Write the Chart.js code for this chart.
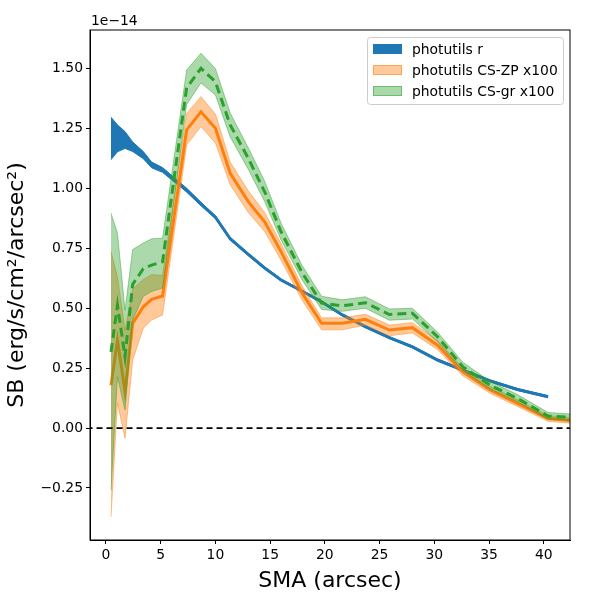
<!DOCTYPE html>
<html>
<head>
<meta charset="utf-8">
<title>SB profile</title>
<script src="https://cdn.jsdelivr.net/npm/chart.js@4.4.1/dist/chart.umd.min.js"></script>
<style>
    body { margin: 0; background: #fff; }
    #wrap { width: 600px; height: 600px; }
</style>
</head>
<body>
<div id="wrap"><canvas id="myChart" width="600" height="600"></canvas></div>
<script>
// SMA grid (arcsec)
const sma = [0.46, 1.05, 1.74, 2.44, 3.41, 4.17, 5.17, 7.37, 8.68, 10.0, 11.35, 13.0, 14.5, 16.0,
    17.9, 19.7, 21.6, 23.7, 25.9, 28.0, 30.3, 32.6, 35.1, 37.6, 40.4, 43.4];

// photutils r  (units of 1e-14)
const rMean = [1.209, 1.209, 1.200, 1.174, 1.139, 1.098, 1.077, 0.993, 0.935, 0.880, 0.790, 0.725, 0.668, 0.618,
    0.572, 0.527, 0.472, 0.423, 0.377, 0.339, 0.284, 0.242, 0.197, 0.161, 0.131, null];
const rLow = [1.120, 1.153, 1.167, 1.154, 1.124, 1.086, 1.067, 0.985, 0.928, 0.874, 0.785, 0.720, 0.664, 0.614,
    0.568, 0.523, 0.468, 0.419, 0.373, 0.335, 0.280, 0.238, 0.193, 0.157, 0.127, null];
const rHigh = [1.297, 1.265, 1.237, 1.194, 1.154, 1.110, 1.087, 1.001, 0.942, 0.886, 0.795, 0.730, 0.672, 0.622,
    0.576, 0.531, 0.476, 0.427, 0.381, 0.343, 0.288, 0.246, 0.201, 0.165, 0.135, null];

// photutils CS-ZP x100
const zpMean = [0.179, 0.367, 0.152, 0.437, 0.506, 0.537, 0.551, 1.244, 1.320, 1.251, 1.063, 0.945, 0.861, 0.736,
    0.565, 0.437, 0.437, 0.454, 0.409, 0.419, 0.346, 0.235, 0.159, 0.103, 0.040, 0.028];
const zpLow = [-0.370, 0.104, -0.042, 0.284, 0.417, 0.451, 0.472, 1.181, 1.258, 1.190, 1.015, 0.900, 0.820, 0.700,
    0.535, 0.410, 0.410, 0.430, 0.385, 0.397, 0.327, 0.218, 0.145, 0.090, 0.028, 0.017];
const zpHigh = [0.736, 0.632, 0.409, 0.580, 0.620, 0.640, 0.638, 1.313, 1.383, 1.310, 1.110, 0.990, 0.900, 0.770,
    0.595, 0.460, 0.460, 0.475, 0.430, 0.440, 0.365, 0.250, 0.175, 0.118, 0.052, 0.040];

// photutils CS-gr x100
const grMean = [0.318, 0.513, 0.298, 0.600, 0.665, 0.680, 0.694, 1.420, 1.501, 1.445, 1.265, 1.126, 0.986, 0.819,
    0.650, 0.521, 0.510, 0.523, 0.474, 0.479, 0.381, 0.256, 0.179, 0.124, 0.050, 0.043];
const grLow = [-0.259, 0.214, 0.075, 0.450, 0.550, 0.570, 0.584, 1.350, 1.440, 1.390, 1.215, 1.080, 0.945, 0.785,
    0.620, 0.495, 0.487, 0.500, 0.450, 0.455, 0.360, 0.240, 0.163, 0.110, 0.037, 0.030];
const grHigh = [0.896, 0.813, 0.492, 0.745, 0.772, 0.790, 0.792, 1.494, 1.564, 1.500, 1.315, 1.170, 1.030, 0.855,
    0.680, 0.550, 0.535, 0.548, 0.497, 0.500, 0.400, 0.275, 0.195, 0.140, 0.065, 0.056];

const zeroLevel = 0;
const seriesNames = ['photutils r', 'photutils CS-ZP x100', 'photutils CS-gr x100'];
const xTicks = [0, 5, 10, 15, 20, 25, 30, 35, 40];
const yTicks = [-0.25, 0, 0.25, 0.5, 0.75, 1.0, 1.25, 1.5];

const xMin = -1.46, xMax = 42.4;
const yMin = -0.467, yMax = 1.661;

const BLUE = '#1f77b4', ORANGE = '#ff7f0e', GREEN = '#2ca02c';
const ORANGE_BAND = 'rgba(255,127,14,0.42)';
const GREEN_BAND = 'rgba(44,160,44,0.4)';

const xy = arr => sma.map((x, i) => ({ x: x, y: arr[i] }));

function band(lowArr, highArr, color, edge, order) {
    return [
        { data: xy(lowArr), borderColor: edge, borderWidth: 1, pointRadius: 0, fill: false, order: order },
        { data: xy(highArr), borderColor: edge, borderWidth: 1, pointRadius: 0, backgroundColor: color, fill: '-1', order: order }
    ];
}

const fmt = v => {
    const s = Math.abs(v).toFixed(2);
    return v < 0 ? '\u2212' + s : s;
};

const frame = {
    id: 'frame',
    afterDraw(chart) {
        const { ctx, chartArea: a } = chart;
        ctx.save();
        ctx.strokeStyle = '#000';
        ctx.lineWidth = 1;
        ctx.strokeRect(a.left, a.top, a.right - a.left, a.bottom - a.top);

        // offset text
        ctx.fillStyle = '#000';
        ctx.font = '13.9px "DejaVu Sans"';
        ctx.textAlign = 'left';
        ctx.textBaseline = 'alphabetic';
        ctx.fillText('1e\u221214', a.left + 1, a.top - 5);

        // legend
        const bx = a.right - 203, by = a.top + 7, bw = 196, bh = 67;
        ctx.beginPath();
        ctx.roundRect(bx + 0.5, by + 0.5, bw, bh, 3);
        ctx.fillStyle = 'rgba(255,255,255,0.8)';
        ctx.fill();
        ctx.strokeStyle = '#cccccc';
        ctx.stroke();
        const fills = [BLUE, ORANGE_BAND, GREEN_BAND];
        const edges = [BLUE, 'rgba(255,127,14,0.5)', 'rgba(44,160,44,0.5)'];
        seriesNames.forEach((name, i) => {
            const cy = by + 12 + i * 21;
            ctx.fillStyle = fills[i];
            ctx.fillRect(bx + 6, cy - 5, 29, 10);
            ctx.strokeStyle = edges[i];
            ctx.strokeRect(bx + 6.5, cy - 4.5, 28, 9);
            ctx.fillStyle = '#000';
            ctx.textBaseline = 'middle';
            ctx.fillText(name, bx + 45, cy + 1);
        });
        ctx.restore();
    }
};

const ctx = document.getElementById('myChart').getContext('2d');

const datasets = [
    // zero reference line (on top)
    { data: [{ x: -10, y: zeroLevel }, { x: 60, y: zeroLevel }], borderColor: '#000', borderWidth: 1.6,
      borderDash: [6, 4], pointRadius: 0, fill: false, order: 0 },
    // green
    { data: xy(grMean), borderColor: GREEN, borderWidth: 3, borderDash: [9, 5], pointRadius: 0, fill: false, order: 1 },
    ...band(grLow, grHigh, GREEN_BAND, 'rgba(44,160,44,0.45)', 2),
    // orange
    { data: xy(zpMean), borderColor: ORANGE, borderWidth: 3, pointRadius: 0, fill: false, order: 3 },
    ...band(zpLow, zpHigh, ORANGE_BAND, 'rgba(255,127,14,0.45)', 4),
    // blue
    { data: xy(rMean), borderColor: BLUE, borderWidth: 3, pointRadius: 0, fill: false, order: 5 },
    ...band(rLow, rHigh, BLUE, BLUE, 6)
];

const myChart = new Chart(ctx, {
    type: 'line',
    data: { datasets: datasets },
    options: {
        responsive: false,
        animation: false,
        devicePixelRatio: 1,
        layout: { padding: { top: 30, right: 30, left: 0, bottom: 0 } },
        elements: { line: { tension: 0 } },
        plugins: {
            legend: { display: false },
            tooltip: { enabled: false }
        },
        scales: {
            x: {
                type: 'linear',
                min: xMin,
                max: xMax,
                afterBuildTicks: s => { s.ticks = xTicks.map(v => ({ value: v })); },
                afterFit: s => { s.height = 60; },
                ticks: { color: '#000', padding: 3, font: { family: 'DejaVu Sans', size: 13.9 },
                         maxRotation: 0, callback: v => String(v) },
                grid: { drawOnChartArea: false, drawTicks: true, tickLength: 4, color: '#000' },
                border: { display: true, color: '#000' },
                title: { display: true, text: 'SMA (arcsec)', color: '#000',
                         font: { family: 'DejaVu Sans', size: 22 }, padding: { top: 4, bottom: 6 } }
            },
            y: {
                type: 'linear',
                min: yMin,
                max: yMax,
                afterBuildTicks: s => { s.ticks = yTicks.map(v => ({ value: v })); },
                afterFit: s => { s.width = 90; },
                ticks: { color: '#000', padding: 3, font: { family: 'DejaVu Sans', size: 13.9 },
                         callback: v => fmt(v) },
                grid: { drawOnChartArea: false, drawTicks: true, tickLength: 4, color: '#000' },
                border: { display: true, color: '#000' },
                title: { display: true, text: 'SB (erg/s/cm\u00b2/arcsec\u00b2)', color: '#000',
                         font: { family: 'DejaVu Sans', size: 22 }, padding: { top: 4, bottom: 4 } }
            }
        }
    },
    plugins: [frame]
});
</script>
</body>
</html>
